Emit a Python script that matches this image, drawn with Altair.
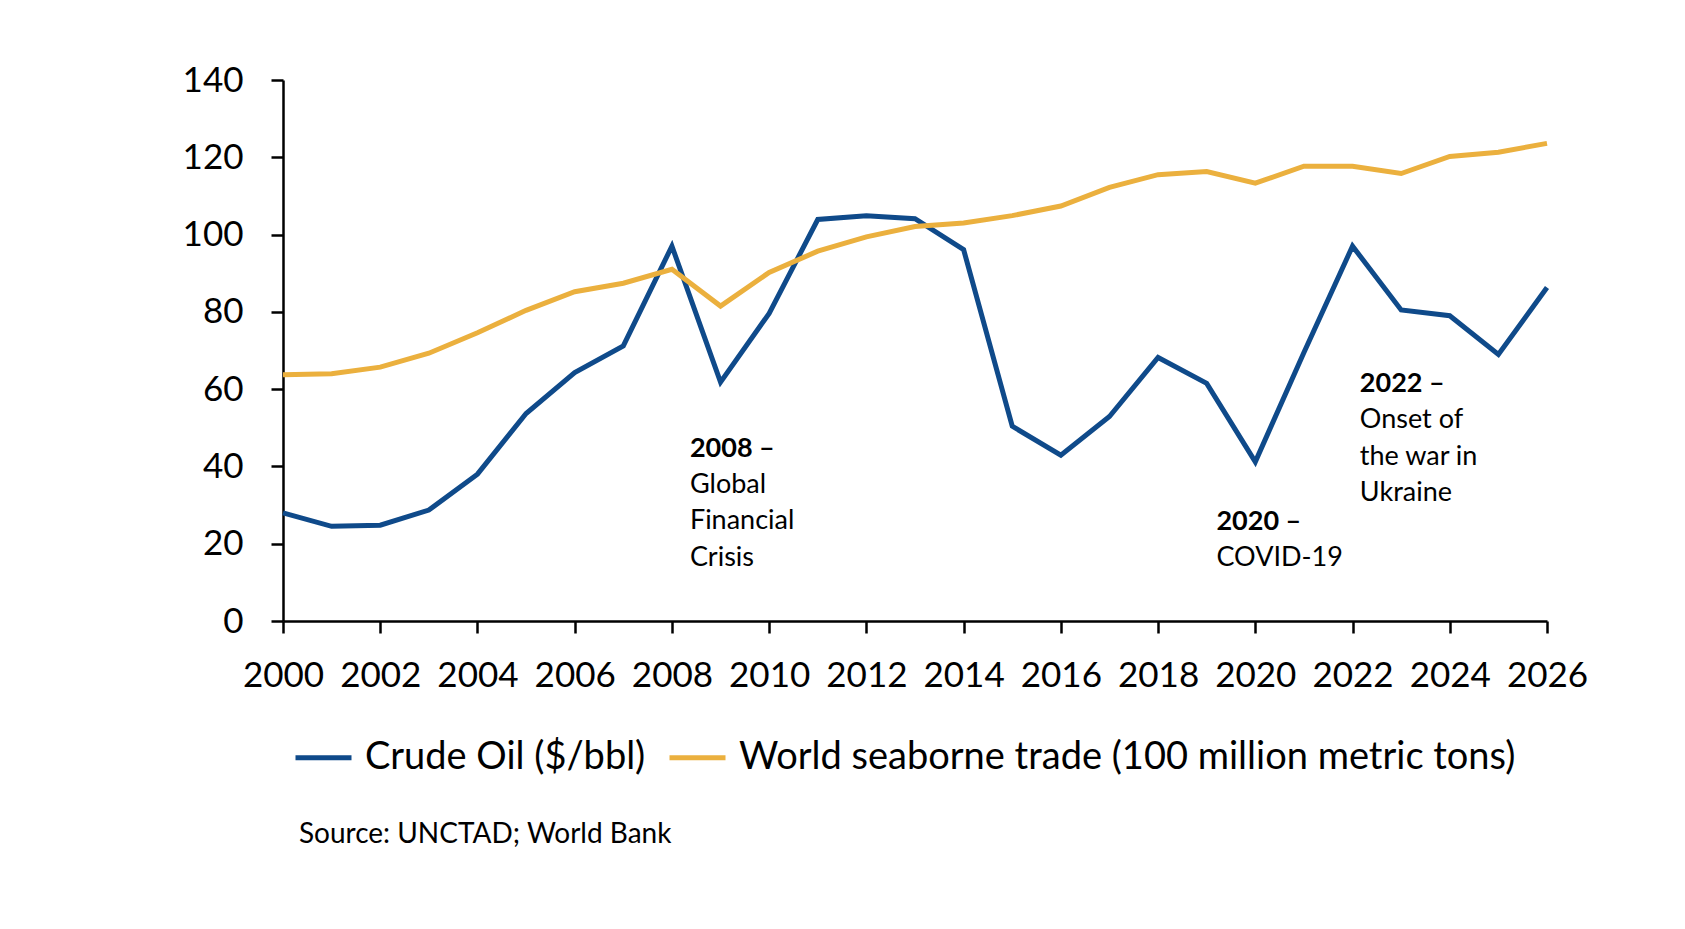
import altair as alt
import pandas as pd

years = list(range(2000, 2027))
crude_oil = [28, 24.5, 24.8, 28.7, 38, 53.7, 64.3, 71.2, 97, 61.8, 79.6, 103.9, 104.9, 104.1,
             96.1, 50.4, 42.9, 52.9, 68.2, 61.5, 41.2, 69.5, 97, 80.5, 79, 69, 86.3]
seaborne = [63.7, 64, 65.7, 69.3, 74.6, 80.4, 85.2, 87.4, 91, 81.5, 90.2, 95.7, 99.4, 102.1,
            103, 104.9, 107.4, 112.2, 115.5, 116.3, 113.3, 117.7, 117.7, 115.8, 120.2, 121.3, 123.6]
series_names = ["Crude Oil ($/bbl)", "World seaborne trade (100 million metric tons)"]
series_colors = ["#0F4A8A", "#EBB03E"]

y_ticks = [0, 20, 40, 60, 80, 100, 120, 140]
x_ticks = list(range(2000, 2027, 2))

ann_x = [2008.37, 2008.37, 2008.37, 2008.37, 2019.2, 2019.2, 2022.15, 2022.15, 2022.15, 2022.15]
ann_y = [44.6, 35.2, 25.9, 16.4, 25.5, 16.3, 61.3, 52.0, 42.5, 33.2]
ann_text = ["2008 –", "Global", "Financial", "Crisis", "2020 –", "COVID-19",
            "2022 –", "Onset of", "the war in", "Ukraine"]
ann_bold = [True, False, False, False, True, False, True, False, False, False]

source_text = ["Source: UNCTAD; World Bank"]

FONT = "Lato"

df = pd.DataFrame({
    "year": years * 2,
    "value": crude_oil + seaborne,
    "series": [series_names[0]] * len(years) + [series_names[1]] * len(years),
})
ann = pd.DataFrame({"x": ann_x, "y": ann_y, "text": ann_text, "bold": ann_bold})

xscale = alt.Scale(domain=[2000, 2026], nice=False, zero=False)
yscale = alt.Scale(domain=[0, 140], nice=False)

lines = alt.Chart(df).mark_line(strokeWidth=5, strokeJoin="miter").encode(
    x=alt.X("year:Q", scale=xscale,
            axis=alt.Axis(values=x_ticks, format="d", title=None, grid=False,
                          labelFontSize=35, labelPadding=25, tickSize=12,
                          labelFont=FONT, labelColor="black", labelFlush=False)),
    y=alt.Y("value:Q", scale=yscale,
            axis=alt.Axis(values=y_ticks, title=None, grid=False,
                          labelFontSize=35, labelPadding=28, tickSize=12,
                          labelFont=FONT, labelColor="black")),
    color=alt.Color("series:N",
                    scale=alt.Scale(domain=series_names, range=series_colors),
                    sort=series_names,
                    legend=alt.Legend(title=None, orient="none", direction="horizontal",
                                      legendX=10, legendY=647,
                                      symbolType="stroke", symbolSize=3136,
                                      symbolStrokeWidth=5, labelFontSize=38,
                                      labelFont=FONT, labelColor="black",
                                      labelOffset=11, columnPadding=13,
                                      labelLimit=1000)),
)

bold_txt = alt.Chart(ann).transform_filter("datum.bold").mark_text(
    align="left", baseline="middle", fontSize=27, fontWeight="bold", font=FONT, color="black"
).encode(x="x:Q", y="y:Q", text="text:N")

norm_txt = alt.Chart(ann).transform_filter("!datum.bold").mark_text(
    align="left", baseline="middle", fontSize=27, font=FONT, color="black"
).encode(x="x:Q", y="y:Q", text="text:N")

src = alt.Chart(pd.DataFrame({"t": source_text})).mark_text(
    align="left", baseline="middle", fontSize=28, font=FONT, color="black"
).encode(x=alt.value(16), y=alt.value(755), text="t:N")

chart = alt.layer(lines, bold_txt, norm_txt, src).properties(
    width=1264, height=541,
    autosize=alt.AutoSizeParams(type="none"),
    padding={"left": 275, "top": 72, "right": 100, "bottom": 280},
).configure_view(stroke=None).configure_axis(
    domainColor="black", tickColor="black", domainWidth=2.5, tickWidth=2.5
)

chart.save("out.html", embed_options={"renderer": "svg", "actions": False})
